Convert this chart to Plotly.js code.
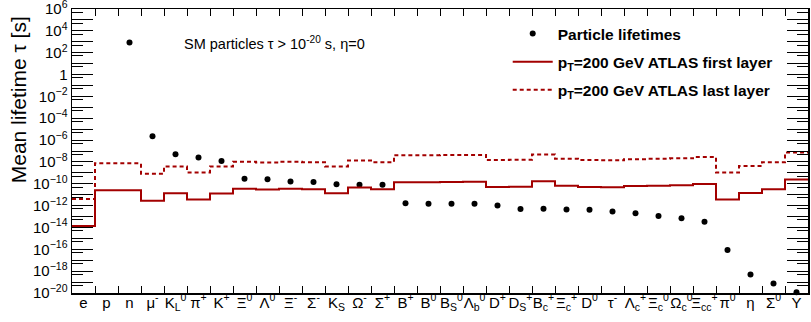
<!DOCTYPE html>
<html>
<head>
<meta charset="utf-8">
<script src="https://cdn.plot.ly/plotly-3.0.1.min.js"></script>
<style>html,body{margin:0;padding:0;background:#fff;}#chart{width:811px;height:322px;}</style>
</head>
<body>
<div id="chart"></div>
<script>
// Particle labels (x categories)
const particles = ["e","p","n","μ<sup>-</sup>","K<sub>L</sub><sup>0</sup>","π<sup>+</sup>","K<sup>+</sup>",
  "Ξ<sup>0</sup>","Λ<sup>0</sup>","Ξ<sup>-</sup>","Σ<sup>-</sup>","K<sub>S</sub>","Ω<sup>-</sup>","Σ<sup>+</sup>",
  "B<sup>+</sup>","B<sup>0</sup>","B<sub>S</sub><sup>0</sup>","Λ<sub>b</sub><sup>0</sup>","D<sup>+</sup>",
  "D<sub>S</sub><sup>+</sup>","B<sub>c</sub><sup>+</sup>","Ξ<sub>c</sub><sup>+</sup>","D<sup>0</sup>","τ<sup>-</sup>",
  "Λ<sub>c</sub><sup>+</sup>","Ξ<sub>c</sub><sup>0</sup>","Ω<sub>c</sub><sup>0</sup>","Ξ<sub>cc</sub><sup>+</sup>",
  "π<sup>0</sup>","η","Σ<sup>0</sup>","Υ"];

// Mean lifetimes [s] (null = stable, no point)
const lifetimes = [null, null, 880, 2.2e-6, 5.1e-8, 2.6e-8, 1.24e-8,
  2.9e-10, 2.6e-10, 1.64e-10, 1.48e-10, 9.0e-11, 8.2e-11, 8.0e-11,
  1.64e-12, 1.52e-12, 1.51e-12, 1.47e-12, 1.04e-12,
  5.0e-13, 5.1e-13, 4.4e-13, 4.1e-13, 2.9e-13,
  2.0e-13, 1.12e-13, 6.9e-14, 3.3e-14,
  8.5e-17, 5.0e-19, 7.4e-20, 1.2e-20];

// pT=200 GeV ATLAS first layer threshold [s]
const firstLayer = [1.36e-14, 2.5e-11, 2.5e-11, 2.82e-12, 1.33e-11, 3.72e-12, 1.32e-11,
  3.5e-11, 2.97e-11, 3.52e-11, 3.19e-11, 1.33e-11, 4.46e-11, 3.17e-11,
  1.41e-10, 1.41e-10, 1.43e-10, 1.5e-10, 4.98e-11,
  5.24e-11, 1.67e-10, 6.57e-11, 4.97e-11, 4.73e-11,
  6.09e-11, 6.58e-11, 7.18e-11, 9.65e-11,
  3.6e-12, 1.46e-11, 3.18e-11, 2.52e-10];

// pT=200 GeV ATLAS last layer threshold [s]
const lastLayer = [4.0e-12, 7.4e-9, 7.4e-9, 8.3e-10, 3.9e-9, 1.1e-9, 3.9e-9,
  1.03e-8, 8.8e-9, 1.04e-8, 9.4e-9, 3.9e-9, 1.32e-8, 9.4e-9,
  4.15e-8, 4.15e-8, 4.2e-8, 4.4e-8, 1.47e-8,
  1.55e-8, 4.9e-8, 1.94e-8, 1.47e-8, 1.4e-8,
  1.8e-8, 1.94e-8, 2.12e-8, 2.85e-8,
  1.06e-9, 4.3e-9, 9.4e-9, 7.4e-8];

const n = particles.length;
const idx = particles.map((_, i) => i);
// histogram-style steps: bin edges
const edges = idx.map(i => i - 0.5).concat([n - 0.5]);
const stepY = arr => arr.concat([arr[arr.length - 1]]);

const red = '#a30000';
const font = 'Liberation Sans, Arial, Helvetica, sans-serif';

const traces = [
  {x: idx, y: lifetimes, type: 'scatter', mode: 'markers', name: '<b>Particle lifetimes</b>',
   marker: {color: 'black', size: 6}, legendgroup: 'a', cliponaxis: false},
  {x: edges, y: stepY(firstLayer), type: 'scatter', mode: 'lines', line: {shape: 'hv', color: red, width: 2},
   name: '<b>p<sub>T</sub>=200 GeV ATLAS first layer</b>', legendgroup: 'b'},
  {x: edges, y: stepY(lastLayer), type: 'scatter', mode: 'lines', line: {shape: 'hv', color: red, width: 2, dash: '4px,3px'},
   name: '<b>p<sub>T</sub>=200 GeV ATLAS last layer</b>', legendgroup: 'c'}
];

const decades = [];
const decLabels = [];
const minorVals = [];
for (let k = -20; k <= 6; k++) {
  decades.push(Math.pow(10, k));
  if (k % 2 === 0) {
    decLabels.push(k === 0 ? '1' : '10<sup>' + (k < 0 ? '−' + (-k) : k) + '</sup>');
  } else decLabels.push('');
  if (k > -20) minorVals.push(5 * Math.pow(10, k - 1));
}

const layout = {
  width: 811, height: 322,
  margin: {l: 72, r: 3, t: 9, b: 29},
  paper_bgcolor: '#fff', plot_bgcolor: '#fff',
  font: {family: font, color: '#000', size: 15},
  showlegend: true,
  legend: {x: 0.592, y: 0.972, xanchor: 'left', yanchor: 'top', bgcolor: 'rgba(0,0,0,0)',
    font: {family: font, size: 15.5}, traceorder: 'grouped', tracegroupgap: 5, itemwidth: 40},
  xaxis: {
    range: [-0.5, n - 0.5], tickmode: 'array', tickvals: idx, ticktext: particles, tickangle: 0,
    ticks: '', showgrid: false, zeroline: false, showline: true, linecolor: '#000', linewidth: 1.5,
    mirror: 'ticks', tickfont: {size: 15, family: font}, ticklabelstandoff: -5, ticklabeloverflow: 'allow',
    minor: {tickmode: 'array', tickvals: edges.slice(1, -1), ticks: 'inside', ticklen: 7, tickcolor: '#000', showgrid: false}
  },
  yaxis: {
    type: 'log', range: [-20, 6], tickmode: 'array', tickvals: decades, ticktext: decLabels,
    ticks: 'inside', ticklen: 21, tickcolor: '#000', showgrid: false, zeroline: false,
    showline: true, linecolor: '#000', linewidth: 1.5, mirror: 'ticks', ticklabeloverflow: 'allow',
    tickfont: {size: 15, family: font},
    minor: {tickmode: 'array', tickvals: minorVals, ticks: 'inside', ticklen: 11, tickcolor: '#000', showgrid: false}
  },
  annotations: [{
    xref: 'paper', yref: 'paper', x: 0.149, y: 0.882, xanchor: 'left', yanchor: 'middle',
    text: 'SM particles τ > 10<sup>-20</sup> s, η=0', showarrow: false,
    font: {family: font, size: 14.5}
  }, {
    xref: 'paper', yref: 'paper', x: -0.0715, y: 0.68, xanchor: 'center', yanchor: 'middle', textangle: -90,
    text: 'Mean lifetime τ [s]', showarrow: false, font: {family: font, size: 21}
  }]
};

Plotly.newPlot('chart', traces, layout, {displayModeBar: false, staticPlot: true});
</script>
</body>
</html>
